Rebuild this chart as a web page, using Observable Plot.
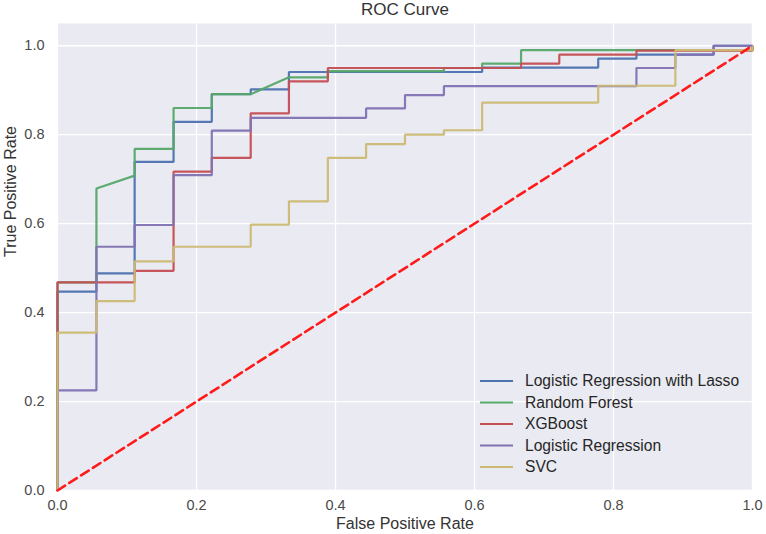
<!DOCTYPE html>
<html><head><meta charset="utf-8">
<script src="https://cdn.jsdelivr.net/npm/d3@7"></script>
<script src="https://cdn.jsdelivr.net/npm/@observablehq/plot@0.6"></script>
<style>body{margin:0;background:#fff} #chart{width:766px;height:534px}</style>
</head><body><div id="chart"></div>
<script>
const models = ["Logistic Regression with Lasso", "Random Forest", "XGBoost", "Logistic Regression", "SVC"];
const colors = ["#4C72B0", "#55A868", "#C44E52", "#8172B2", "#CCB974"];

const lassoFpr = [0,0,0.056,0.056,0.111,0.111,0.167,0.167,0.222,0.222,0.278,0.278,0.333,0.333,0.611,0.611,0.778,0.778,0.833,0.833,0.944,0.944,1];
const lassoTpr = [0,0.447,0.447,0.488,0.488,0.739,0.739,0.829,0.829,0.891,0.891,0.902,0.902,0.941,0.941,0.951,0.951,0.971,0.971,0.98,0.98,1,1];

const rfFpr = [0,0,0.056,0.056,0.111,0.111,0.167,0.167,0.222,0.222,0.278,0.333,0.389,0.389,0.556,0.556,0.611,0.611,0.667,0.667,1,1];
const rfTpr = [0,0.468,0.468,0.679,0.708,0.768,0.768,0.86,0.86,0.891,0.891,0.929,0.929,0.943,0.943,0.95,0.95,0.96,0.96,0.99,0.99,1];

const xgbFpr = [0,0,0.111,0.111,0.167,0.167,0.222,0.222,0.278,0.278,0.333,0.333,0.389,0.389,0.667,0.667,0.722,0.722,0.833,0.833,1,1];
const xgbTpr = [0,0.468,0.468,0.494,0.494,0.717,0.717,0.748,0.748,0.848,0.848,0.92,0.92,0.95,0.95,0.96,0.96,0.98,0.98,0.989,0.989,1];

const lrFpr = [0,0,0.056,0.056,0.111,0.111,0.167,0.167,0.222,0.222,0.278,0.278,0.444,0.444,0.5,0.5,0.556,0.556,0.833,0.833,0.889,0.889,0.944,0.944,1];
const lrTpr = [0,0.225,0.225,0.548,0.548,0.597,0.597,0.709,0.709,0.809,0.809,0.838,0.838,0.859,0.859,0.889,0.889,0.909,0.909,0.95,0.95,0.98,0.98,1,1];

const svcFpr = [0,0,0.056,0.056,0.111,0.111,0.167,0.167,0.278,0.278,0.333,0.333,0.389,0.389,0.444,0.444,0.5,0.5,0.556,0.556,0.611,0.611,0.778,0.778,0.889,0.889,1,1];
const svcTpr = [0,0.355,0.355,0.426,0.426,0.515,0.515,0.548,0.548,0.598,0.598,0.65,0.65,0.748,0.748,0.779,0.779,0.80,0.80,0.81,0.81,0.872,0.872,0.91,0.91,0.99,0.99,1];

const chanceFpr = [0, 1];
const chanceTpr = [0, 1];

const xTicks = [0, 0.2, 0.4, 0.6, 0.8, 1.0];
const yTicks = [0, 0.2, 0.4, 0.6, 0.8, 1.0];

const title = "ROC Curve";
const xLabel = "False Positive Rate";
const yLabel = "True Positive Rate";

const series = [
  {name: models[0], fpr: lassoFpr, tpr: lassoTpr},
  {name: models[1], fpr: rfFpr, tpr: rfTpr},
  {name: models[2], fpr: xgbFpr, tpr: xgbTpr},
  {name: models[3], fpr: lrFpr, tpr: lrTpr},
  {name: models[4], fpr: svcFpr, tpr: svcTpr}
];
const rows = [];
series.forEach(s => s.fpr.forEach((f, i) => rows.push({model: s.name, fpr: f, tpr: s.tpr[i]})));
const diag = chanceFpr.map((f, i) => ({fpr: f, tpr: chanceTpr[i]}));

const fmt = d3.format(".1f");
const font = "'Liberation Sans', Arial, sans-serif";

const plot = Plot.plot({
  width: 766, height: 534,
  marginLeft: 57, marginRight: 14, marginTop: 23, marginBottom: 44,
  style: {fontFamily: font, fontSize: "14px", background: "#fff", overflow: "visible"},
  x: {domain: [0, 1]},
  y: {domain: [0, 1.05]},
  color: {domain: models, range: colors},
  marks: [
    Plot.frame({fill: "#EAEAF2", stroke: null}),
    Plot.gridX(xTicks, {stroke: "#fff", strokeOpacity: 1, strokeWidth: 1.3}),
    Plot.gridY(yTicks, {stroke: "#fff", strokeOpacity: 1, strokeWidth: 1.3}),
    Plot.axisX(xTicks, {tickSize: 0, tickPadding: 9, tickFormat: fmt, label: null, color: "#4a4a4a", fontSize: 14.5}),
    Plot.axisY(yTicks, {tickSize: 0, tickPadding: 13, tickFormat: fmt, label: null, color: "#4a4a4a", fontSize: 14.5}),
    Plot.line(rows, {x: "fpr", y: "tpr", z: "model", stroke: "model", strokeWidth: 2.2, strokeOpacity: 0.95, strokeLinejoin: "miter", strokeLinecap: "butt"}),
    Plot.line(diag, {x: "fpr", y: "tpr", stroke: "#ff1a1a", strokeWidth: 2.6, strokeDasharray: "9,5"}),
    Plot.text([title], {text: d => d, frameAnchor: "top", dy: -9, lineAnchor: "bottom", fontSize: 17, fill: "#333"}),
    Plot.text([xLabel], {text: d => d, frameAnchor: "bottom", dy: 33, lineAnchor: "middle", fontSize: 16, fill: "#333"}),
    Plot.text([yLabel], {text: d => d, frameAnchor: "left", dx: -47, rotate: -90, lineAnchor: "middle", fontSize: 16, fill: "#333"})
  ]
});

const svg = d3.select(plot);
const lg = svg.append("g");
models.forEach((m, i) => {
  const y = 381 + i * 21.5;
  lg.append("line").attr("x1", 480).attr("x2", 513).attr("y1", y).attr("y2", y)
    .attr("stroke", colors[i]).attr("stroke-width", 2.2);
  lg.append("text").attr("x", 525).attr("y", y).attr("dy", "0.35em")
    .attr("text-anchor", "start")
    .attr("font-family", font).attr("font-size", 15.6).attr("fill", "#262626").text(m);
});

document.getElementById("chart").appendChild(plot);
</script>
</body></html>
